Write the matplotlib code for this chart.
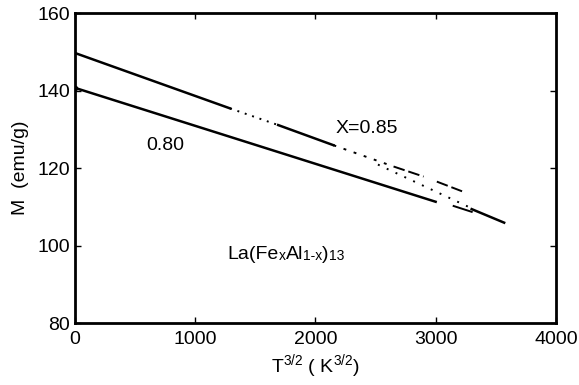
import matplotlib
matplotlib.use("Agg")
import matplotlib.pyplot as plt
from matplotlib import font_manager

fams = [f.name for f in font_manager.fontManager.ttflist]
fam = "Liberation Sans Narrow" if "Liberation Sans Narrow" in fams else "Liberation Sans"
plt.rcParams['font.family'] = [fam, 'DejaVu Sans']
plt.rcParams['mathtext.default'] = 'regular'

# x = 0.85 curve (segments: solid / dotted / solid / dotted / dashed)
up_solid1_T = [0, 1290]
up_solid1_M = [149.7, 135.4]
up_dot1_T = [1290, 1690]
up_dot1_M = [135.4, 131.1]
up_solid2_T = [1690, 2150]
up_solid2_M = [131.1, 125.9]
up_dot2_T = [2150, 2650]
up_dot2_M = [125.9, 120.4]
up_dash_T = [2650, 2900, 3010, 3220]
up_dash_M = [120.4, 117.8, 116.5, 114.0]

# x = 0.80 curve
lo_T = [0, 3000]
lo_M = [140.7, 111.3]
lo_tail_T = [3150, 3300]
lo_tail_M = [110.2, 108.7]

# branch: dotted then solid
br_dot_T = [2520, 3300]
br_dot_M = [120.9, 109.6]
br_sol_T = [3300, 3570]
br_sol_M = [109.4, 105.9]

fig = plt.figure(figsize=(5.79, 3.85), dpi=100)
ax = fig.add_axes([0.1295, 0.161, 0.8305, 0.805])

k = dict(color='black', lw=1.8)
ax.plot(up_solid1_T, up_solid1_M, **k)
ax.plot(up_dot1_T, up_dot1_M, color='black', lw=1.4, ls=(0, (1, 3)))
ax.plot(up_solid2_T, up_solid2_M, **k)
ax.plot(up_dot2_T, up_dot2_M, color='black', lw=1.4, ls=(0, (1.5, 4)))
ax.plot(up_dash_T[:2], up_dash_M[:2], color='black', lw=1.4, ls=(0, (6, 2)))
ax.plot(up_dash_T[2:], up_dash_M[2:], color='black', lw=1.4, ls=(0, (6, 2)))
ax.plot(lo_T, lo_M, **k)
ax.plot(lo_T[:1], lo_M[:1], 'o', color='black', ms=3)
ax.plot(lo_tail_T, lo_tail_M, color='black', lw=1.4)
ax.plot(br_dot_T, br_dot_M, color='black', lw=1.4, ls=(0, (1, 4)))
ax.plot(br_sol_T, br_sol_M, **k)

ax.set_xlim(0, 4000)
ax.set_ylim(80, 160)
ax.set_xticks([0, 1000, 2000, 3000, 4000])
ax.set_yticks([80, 100, 120, 140, 160])
ax.tick_params(direction='in', length=4, width=1, labelsize=14, top=True, right=True)
ax.tick_params(axis='x', pad=6)
for s in ax.spines.values():
    s.set_linewidth(2)

ax.set_xlabel('$T^{3/2}$ ( $K^{3/2}$)', fontsize=14, labelpad=3)
ax.set_ylabel('M  (emu/g)', fontsize=14, labelpad=6)

ax.text(2428, 130.2, 'X=0.85', fontsize=14, ha='center', va='center')
ax.text(751, 125.9, '0.80', fontsize=14, ha='center', va='center')

# compound label La(FexAl1-x)13 with small subscripts, real hyphen
t1 = ax.text(1268, 95.5, 'La(Fe', fontsize=14, ha='left', va='bottom')
t2 = ax.annotate('x', xy=(1, 0), xycoords=t1, fontsize=10, ha='left', va='bottom')
t3 = ax.annotate('Al', xy=(1, 0), xycoords=(t2, t1), fontsize=14, ha='left', va='bottom')
t4 = ax.annotate('1-x', xy=(1, 0), xycoords=t3, fontsize=10, ha='left', va='bottom')
t5 = ax.annotate(')', xy=(1, 0), xycoords=(t4, t1), fontsize=14, ha='left', va='bottom')
t6 = ax.annotate('13', xy=(1, 0), xycoords=t5, fontsize=10, ha='left', va='bottom')

fig.savefig('out.png', dpi=100)
